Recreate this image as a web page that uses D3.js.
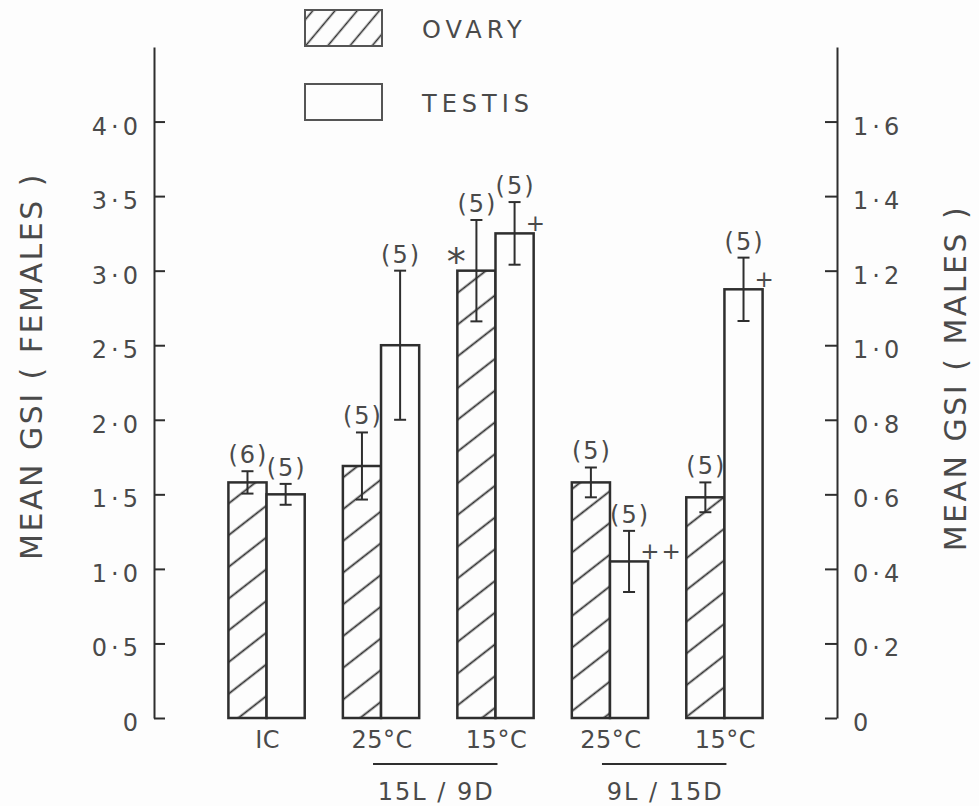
<!DOCTYPE html>
<html><head><meta charset="utf-8">
<script src="https://cdn.jsdelivr.net/npm/d3@7"></script>
<style>
html,body{margin:0;padding:0;background:#fdfdfd;}
svg{display:block;}
text{font-family:"DejaVu Sans",sans-serif;}
</style></head><body>
<svg id="chart" width="979" height="806"></svg>
<script>
// ---- data ----
const categories = ["IC", "25°C", "15°C", "25°C", "15°C"];
const photoperiods = ["15L / 9D", "9L / 15D"];
const photoperiodGroups = [[1, 2], [3, 4]];
const seriesNames = ["OVARY", "TESTIS"];
// ovary: female GSI (left axis)
const ovaryMean = [1.58, 1.69, 3.00, 1.58, 1.48];
const ovarySE   = [0.075, 0.225, 0.34, 0.10, 0.10];
const ovaryN    = [6, 5, 5, 5, 5];
// testis: male GSI (right axis)
const testisMean = [0.60, 1.00, 1.30, 0.42, 1.15];
const testisSE   = [0.028, 0.20, 0.084, 0.082, 0.085];
const testisN    = [5, 5, 5, 5, 5];
const femaleTicks = [0, 0.5, 1.0, 1.5, 2.0, 2.5, 3.0, 3.5, 4.0];
const maleTicks = [0, 0.2, 0.4, 0.6, 0.8, 1.0, 1.2, 1.4, 1.6];
const annotations = [
  {group: 2, series: "ovary", symbol: "*"},
  {group: 2, series: "testis", symbol: "+"},
  {group: 3, series: "testis", symbol: "++"},
  {group: 4, series: "testis", symbol: "+"}
];

// ---- drawing ----
const ink = "#2e2e2e", textInk = "#4a4a4a", bg = "#fdfdfd";
const svg = d3.select("#chart");
svg.append("rect").attr("width", 979).attr("height", 806).attr("fill", bg);
const defs = svg.append("defs");
function hatch(id, spacing, angle, sw) {
  const p = defs.append("pattern").attr("id", id)
    .attr("patternUnits", "userSpaceOnUse")
    .attr("width", spacing).attr("height", spacing)
    .attr("patternTransform", `rotate(${-angle})`);
  p.append("rect").attr("width", spacing).attr("height", spacing).attr("fill", bg);
  p.append("line").attr("x1", 0).attr("x2", spacing)
    .attr("y1", spacing / 2).attr("y2", spacing / 2)
    .attr("stroke", ink).attr("stroke-width", sw);
}
hatch("hatchBar", 25, 38, 1.8);
hatch("hatchLegend", 17, 50, 1.6);

const x0 = d3.scaleBand().domain(d3.range(categories.length))
  .range([154, 837]).paddingInner(1 / 3).paddingOuter(0.65);
const x1 = d3.scaleBand().domain(["ovary", "testis"]).range([0, x0.bandwidth()]);
const yF = d3.scaleLinear().domain([0, 4.5]).range([718, 47]);
const yM = d3.scaleLinear().domain([0, 1.8]).range([718, 47]);

const rows = categories.flatMap((c, i) => [
  {i, series: "ovary", mean: ovaryMean[i], se: ovarySE[i], n: ovaryN[i], y: yF},
  {i, series: "testis", mean: testisMean[i], se: testisSE[i], n: testisN[i], y: yM}
]);
const bx = d => x0(d.i) + x1(d.series);
const bw = x1.bandwidth();

// bars
svg.append("g").selectAll("rect").data(rows).join("rect")
  .attr("x", bx).attr("y", d => d.y(d.mean))
  .attr("width", bw).attr("height", d => d.y(0) - d.y(d.mean))
  .attr("fill", d => d.series === "ovary" ? "url(#hatchBar)" : bg)
  .attr("stroke", ink).attr("stroke-width", 2.5);

// error bars
const eb = svg.append("g").attr("stroke", ink).attr("stroke-width", 2);
rows.forEach(d => {
  const cx = bx(d) + bw / 2, t = d.y(d.mean + d.se), b = d.y(d.mean - d.se);
  eb.append("line").attr("x1", cx).attr("x2", cx).attr("y1", t).attr("y2", b);
  eb.append("line").attr("x1", cx - 6).attr("x2", cx + 6).attr("y1", t).attr("y2", t);
  eb.append("line").attr("x1", cx - 6).attr("x2", cx + 6).attr("y1", b).attr("y2", b);
});

// n labels
svg.append("g").selectAll("text").data(rows).join("text")
  .attr("x", d => bx(d) + bw / 2 + 1)
  .attr("y", d => d.y(d.mean + d.se) - 8)
  .attr("text-anchor", "middle").attr("font-size", 24)
  .attr("letter-spacing", 2).attr("fill", textInk)
  .text(d => `(${d.n})`);

// significance marks
annotations.forEach(a => {
  const d = rows.find(r => r.i === a.group && r.series === a.series);
  if (a.symbol === "*") {
    svg.append("text").attr("x", bx(d) - 1).attr("y", d.y(d.mean) + 4)
      .attr("text-anchor", "middle").attr("font-size", 38).attr("fill", textInk).text(a.symbol);
  } else {
    svg.append("text").attr("x", bx(d) + bw - 8).attr("y", d.y(d.mean) - 2)
      .attr("font-size", 23).attr("letter-spacing", 2).attr("fill", textInk).text(a.symbol);
  }
});

// axes
const fmt = d => d === 0 ? "0" : d3.format(".1f")(d).replace(".", "·");
function styleAxis(g, anchorShift) {
  g.attr("font-family", null).attr("font-size", null);
  g.select(".domain").attr("stroke", ink).attr("stroke-width", 2);
  g.selectAll(".tick line").attr("stroke", ink).attr("stroke-width", 2);
  g.selectAll(".tick text").attr("font-size", 24).attr("fill", textInk)
    .attr("letter-spacing", 4).attr("dy", "0.52em").attr("dx", anchorShift);
}
const gL = svg.append("g").attr("transform", "translate(154,0)")
  .call(d3.axisLeft(yF).tickValues(femaleTicks).tickFormat(fmt)
    .tickSize(-11).tickSizeOuter(0).tickPadding(16));
styleAxis(gL, 4);
const gR = svg.append("g").attr("transform", "translate(837,0)")
  .call(d3.axisRight(yM).tickValues(maleTicks).tickFormat(fmt)
    .tickSize(-12).tickSizeOuter(0).tickPadding(16));
styleAxis(gR, 0);

// axis titles
svg.append("text").attr("transform", "translate(42,366) rotate(-90)")
  .attr("text-anchor", "middle").attr("font-size", 30).attr("letter-spacing", 2.5)
  .attr("fill", textInk).text("MEAN GSI ( FEMALES )");
svg.append("text").attr("transform", "translate(966,378) rotate(-90)")
  .attr("text-anchor", "middle").attr("font-size", 30).attr("letter-spacing", 2.5)
  .attr("fill", textInk).text("MEAN GSI ( MALES )");

// category labels
const gc = i => x0(i) + x0.bandwidth() / 2;
svg.append("g").selectAll("text").data(categories).join("text")
  .attr("x", (c, i) => gc(i) + 1).attr("y", 748)
  .attr("text-anchor", "middle").attr("font-size", 24).attr("letter-spacing", 0.5)
  .attr("fill", textInk).text(c => c);

// photoperiod groups
photoperiods.forEach((p, k) => {
  const [a, b] = photoperiodGroups[k];
  const xa = gc(a) - 8, xb = gc(b) + 2;
  svg.append("line").attr("x1", xa).attr("x2", xb).attr("y1", 764).attr("y2", 764)
    .attr("stroke", ink).attr("stroke-width", 1.8);
  svg.append("text").attr("x", (xa + xb) / 2 + 1).attr("y", 800)
    .attr("text-anchor", "middle").attr("font-size", 24).attr("letter-spacing", 2)
    .attr("fill", textInk).text(p);
});

// legend
const lg = svg.append("g");
seriesNames.forEach((s, k) => {
  const yy = 10 + k * 74;
  lg.append("rect").attr("x", 305).attr("y", yy).attr("width", 77).attr("height", 36)
    .attr("fill", k === 0 ? "url(#hatchLegend)" : bg)
    .attr("stroke", "#555").attr("stroke-width", 2);
  lg.append("text").attr("x", 422).attr("y", yy + 28).attr("font-size", 24)
    .attr("letter-spacing", 5).attr("fill", textInk).text(s);
});
</script>
</body></html>
